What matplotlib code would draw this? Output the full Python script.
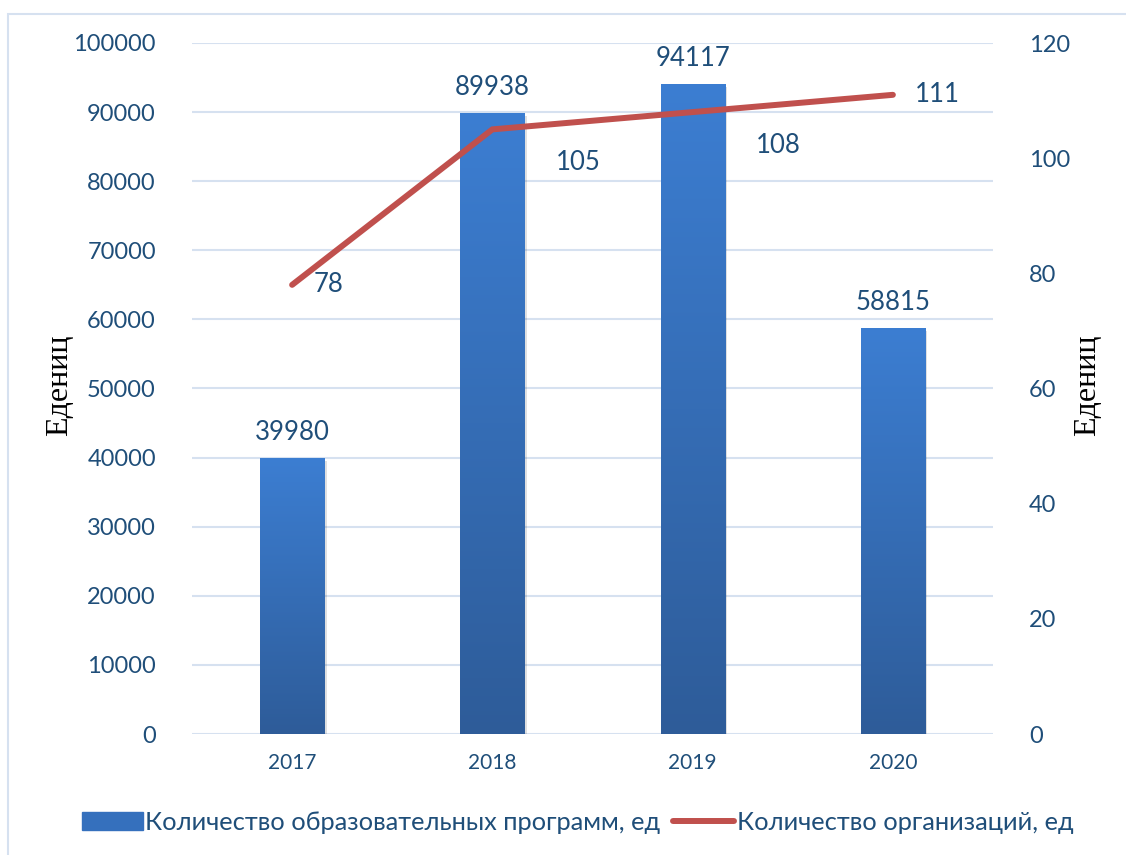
import matplotlib
matplotlib.use("Agg")
import matplotlib.pyplot as plt
from matplotlib.patches import Rectangle
import numpy as np

plt.rcParams["font.family"] = ["Lato", "DejaVu Sans"]

years = ["2017", "2018", "2019", "2020"]
programs = [39980, 89938, 94117, 58815]      # образовательные программы
orgs = [78, 105, 108, 111]                   # организации
label_offsets = [(26, 0), (62, -24), (62, -24), (32, 0)]   # подписи линии, pt

txt = "#1F4E79"
grid_c = "#D6E1F0"

fig = plt.figure(figsize=(11.26, 8.55), dpi=100)
# рамка вокруг диаграммы
fig.add_artist(Rectangle((8 / 1126, -0.1), 1.2, (855 - 14) / 855 + 0.1,
                         transform=fig.transFigure, fill=False,
                         edgecolor=grid_c, linewidth=1.5))

ax = fig.add_axes([192 / 1126, 121 / 855, 801 / 1126, 691 / 855])
ax2 = ax.twinx()
ax.set_zorder(1)
ax2.set_zorder(2)
ax.patch.set_visible(False)

x = np.arange(len(years))
bars = ax.bar(x, programs, width=0.32, color="#3A78C8", zorder=3)

# градиент на столбцах
grad = np.linspace(0, 1, 256).reshape(-1, 1)
cmap = matplotlib.colors.LinearSegmentedColormap.from_list("g", ["#2E5C99", "#3C7ED2"])
for b in bars:
    x0, y0, w, h = b.get_x(), b.get_y(), b.get_width(), b.get_height()
    ax.add_patch(Rectangle((x0 + 0.012, y0 - 500), w, h, color="#000000",
                           alpha=0.12, zorder=2, linewidth=0))
    im = ax.imshow(grad, extent=(x0, x0 + w, y0, y0 + h), origin="lower",
                   cmap=cmap, aspect="auto", zorder=3.5)
    im.set_clip_path(b)

for xi, v in zip(x, programs):
    ax.annotate(str(v), (xi, v), xytext=(0, 9), textcoords="offset points",
                ha="center", va="bottom", fontsize=18.5, color=txt)

ax.set_xlim(-0.5, len(years) - 0.5)
ax.set_ylim(0, 100000)
ax.set_yticks(np.arange(0, 100001, 10000))
ax.set_xticks(x)
ax.set_xticklabels(years)
ax.grid(axis="y", color=grid_c, linewidth=1.5, zorder=0)
ax.tick_params(axis="y", length=0, labelsize=17, labelcolor=txt, pad=26)
ax.tick_params(axis="x", length=0, labelsize=15, labelcolor=txt, pad=14)
for s in ax.spines.values():
    s.set_visible(False)

line, = ax2.plot(x, orgs, color="#C0504D", linewidth=4.3, solid_capstyle="round",
                 solid_joinstyle="miter")
for xi, v, off in zip(x, orgs, label_offsets):
    ax2.annotate(str(v), (xi, v), xytext=off, textcoords="offset points",
                 ha="center", va="center", fontsize=18.5, color=txt)
ax2.set_ylim(0, 120)
ax2.set_yticks(np.arange(0, 121, 20))
ax2.tick_params(axis="y", length=0, labelsize=17, labelcolor=txt, pad=26)
for s in ax2.spines.values():
    s.set_visible(False)

for xp in (60, 1088):
    fig.text(xp / 1126, 1 - 385 / 855, "Едениц", rotation=90, ha="center",
             va="center", fontsize=23, family="Liberation Serif")

leg_bar = Rectangle((0, 0), 1, 1, color="#3570BD")
fig.legend([leg_bar, line],
           ["Количество образовательных программ, ед", "Количество организаций, ед"],
           loc="center", bbox_to_anchor=(0.513, 33 / 855), ncol=2, frameon=False,
           fontsize=18.3, labelcolor=txt, handlelength=2.4, handletextpad=0.1,
           columnspacing=0.5)

fig.savefig("out.png", dpi=100)
